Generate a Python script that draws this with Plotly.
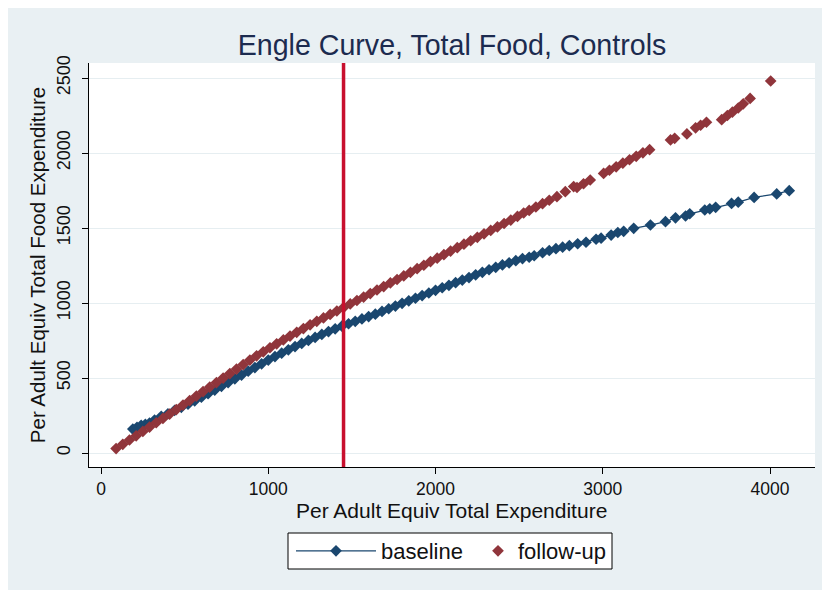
import plotly.graph_objects as go

# ---- data ----
baseline_x = [190, 215, 240, 265, 290, 320, 360, 400, 440, 480, 520, 560, 600, 640, 680,
              720, 760, 800, 840, 880, 920, 960, 1000, 1040, 1080, 1120, 1160, 1200, 1240,
              1280, 1320, 1360, 1400, 1440, 1480, 1520, 1560, 1600, 1640, 1680, 1720, 1760,
              1800, 1840, 1880, 1920, 1960, 2000, 2040, 2080, 2120, 2160, 2200, 2240, 2280,
              2320, 2360, 2400, 2440, 2480, 2520, 2560, 2590, 2640, 2680, 2720, 2760, 2800,
              2850, 2900, 2960, 2990, 3050, 3090, 3125, 3185, 3285, 3375, 3435, 3495, 3520,
              3610, 3640, 3675, 3770, 3810, 3905, 4040, 4115]
baseline_y = [160, 172, 185, 192, 200, 220, 245, 262, 285, 305, 326, 348, 372, 396, 420,
              445, 470, 495, 520, 546, 570, 595, 620, 643, 666, 688, 710, 731, 751,
              771, 791, 810, 828, 846, 862, 878, 894, 910, 926, 944, 962, 980,
              998, 1015, 1032, 1050, 1067, 1085, 1102, 1118, 1136, 1153, 1170, 1188, 1205,
              1222, 1238, 1254, 1268, 1282, 1296, 1305, 1315, 1335, 1350, 1362, 1372, 1382,
              1395, 1405, 1425, 1432, 1453, 1470, 1478, 1498, 1520, 1542, 1568, 1580, 1595,
              1620, 1628, 1638, 1664, 1672, 1704, 1727, 1749]

followup_x = [90, 130, 170, 210, 250, 290, 330, 370, 410, 450, 490, 530, 570, 610, 650,
              690, 730, 770, 810, 850, 890, 930, 970, 1010, 1050, 1090, 1130, 1170, 1210,
              1250, 1290, 1330, 1370, 1410, 1450, 1490, 1530, 1570, 1610, 1650, 1690, 1730,
              1770, 1810, 1850, 1890, 1930, 1970, 2010, 2050, 2090, 2130, 2170, 2210, 2250,
              2290, 2330, 2370, 2410, 2450, 2490, 2527, 2560, 2600, 2640, 2680, 2726, 2776,
              2826, 2846, 2885, 2925, 3005, 3040, 3080, 3120, 3160, 3200, 3240, 3280, 3405,
              3430, 3503, 3555, 3585, 3620, 3711, 3745, 3775, 3810, 3840, 3881, 4004]
followup_y = [30, 58, 87, 115, 144, 173, 202, 231, 260, 290, 320, 350, 380, 410, 440,
              470, 500, 530, 560, 590, 620, 648, 675, 702, 728, 754, 780, 805, 830,
              855, 878, 901, 924, 947, 970, 994, 1017, 1040, 1063, 1087, 1110, 1134,
              1157, 1181, 1205, 1229, 1252, 1276, 1299, 1322, 1346, 1369, 1392, 1415, 1438,
              1461, 1484, 1507, 1530, 1553, 1577, 1600, 1617, 1640, 1662, 1685, 1709, 1742,
              1776, 1770, 1795, 1820, 1864, 1885, 1908, 1932, 1955, 1978, 2001, 2022, 2087,
              2098, 2127, 2168, 2185, 2205, 2222, 2250, 2272, 2300, 2328, 2364, 2480]

threshold_x = 1450
x_ticks = [0, 1000, 2000, 3000, 4000]
y_ticks = [0, 500, 1000, 1500, 2000, 2500]

NAVY = "#1a476f"
MAROON = "#90353b"
BG = "#E9F0F3"
FONT = "Liberation Sans, Arial, sans-serif"

# page offset (body margin) and figure geometry
OFF = 8
W, H = 816, 582
ml, mr, mt, mb = 81, 9, 55, 123
pw, ph = W - ml - mr, H - mt - mb


def px_x(p):  # screenshot px -> paper x
    return (p - OFF - ml) / pw


def px_y(p):  # screenshot px -> paper y
    return (H - mb - (p - OFF)) / ph


fig = go.Figure()
fig.add_trace(go.Scatter(
    x=baseline_x, y=baseline_y, mode="lines+markers", name="baseline",
    line=dict(color=NAVY, width=1.3),
    marker=dict(symbol="diamond", size=9, color=NAVY),
    legend="legend",
))
fig.add_trace(go.Scatter(
    x=followup_x, y=followup_y, mode="markers", name="follow-up",
    marker=dict(symbol="diamond", size=9, color=MAROON),
    legend="legend2",
))

fig.add_shape(type="line", xref="x", yref="paper", x0=threshold_x, x1=threshold_x,
              y0=0, y1=1, line=dict(color="#C8102E", width=3.5))

# legend frame
fig.add_shape(type="rect", xref="paper", yref="paper",
              x0=px_x(288), x1=px_x(612), y0=px_y(569), y1=px_y(533),
              fillcolor="white", line=dict(color="black", width=1), layer="above")

fig.add_annotation(text="Per Adult Equiv Total Expenditure", xref="paper", yref="paper",
                   x=px_x(451), y=px_y(510), xanchor="center", yanchor="middle",
                   showarrow=False, font=dict(size=21, family=FONT, color="#111111"))

legend_common = dict(orientation="h", yanchor="middle", y=px_y(551),
                     bgcolor="rgba(0,0,0,0)", borderwidth=0,
                     font=dict(size=22, family=FONT, color="#111111"))

fig.update_layout(
    width=W, height=H,
    margin=dict(l=ml, r=mr, t=mt, b=mb),
    paper_bgcolor=BG, plot_bgcolor="white",
    font=dict(family=FONT, color="#111111"),
    title=dict(text="Engle Curve, Total Food, Controls", x=px_x(452), xref="paper",
               xanchor="center", y=1 - (45 - OFF) / H, yanchor="middle",
               font=dict(size=28.6, color="#1c2b4f", family=FONT)),
    showlegend=True,
    legend=dict(x=px_x(291), xanchor="left", itemwidth=80, **legend_common),
    legend2=dict(x=px_x(478), xanchor="left", itemwidth=30, **legend_common),
    xaxis=dict(range=[-72, 4269], tickvals=x_ticks, ticks="outside", ticklen=6,
               tickcolor="black", showline=True, linecolor="black", linewidth=1,
               showgrid=False, zeroline=False, mirror=False,
               tickfont=dict(size=17.5, family=FONT)),
    yaxis=dict(range=[-93, 2600], tickvals=y_ticks, ticks="outside", ticklen=6,
               tickcolor="black", showline=True, linecolor="black", linewidth=1,
               showgrid=True, gridcolor="#E6EEF1", gridwidth=1.2, zeroline=False,
               tickangle=-90, tickfont=dict(size=18, family=FONT), ticklabelstandoff=5,
               title=dict(text="Per Adult Equiv Total Food Expenditure",
                          font=dict(size=20.5, family=FONT), standoff=2)),
)

fig.write_html("out.html", config={"displayModeBar": False})
